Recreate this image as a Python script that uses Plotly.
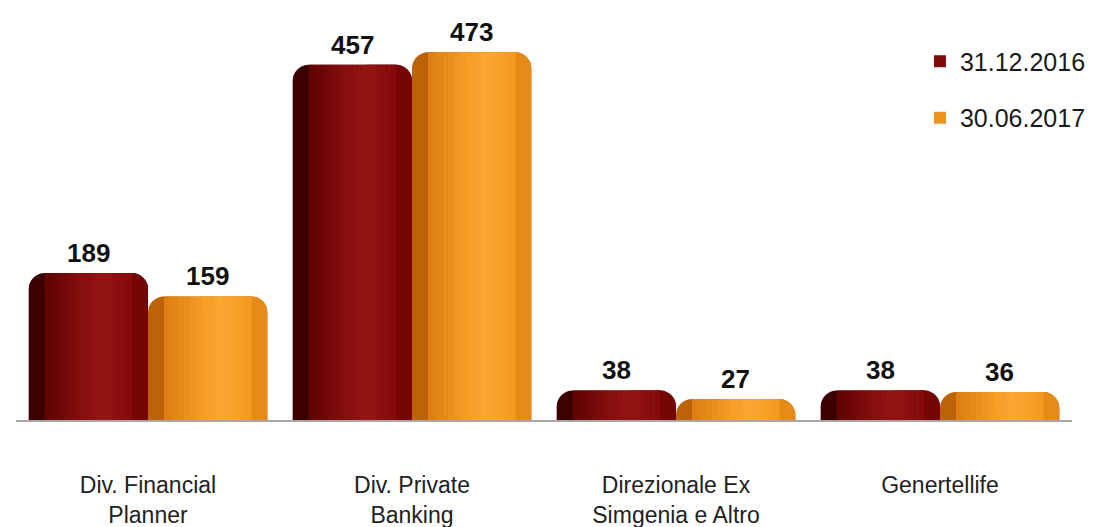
import plotly.graph_objects as go

categories = ["Div. Financial<br>Planner", "Div. Private<br>Banking",
              "Direzionale Ex<br>Simgenia e Altro", "Genertellife"]
series_names = ["31.12.2016", "30.06.2017"]
values_2016 = [189, 457, 38, 38]
values_2017 = [159, 473, 27, 36]

FONT = "Arial, Liberation Sans, Arimo, sans-serif"

# style: cylinder-like horizontal shading stops (position 0..1 across the bar, colour)
shade = [
    [(0.0, (0x3c, 0x00, 0x00)), (0.15, (0x62, 0x04, 0x04)), (0.45, (0x88, 0x0f, 0x0f)),
     (0.62, (0x95, 0x15, 0x15)), (0.85, (0x86, 0x0c, 0x0c)), (1.0, (0x76, 0x05, 0x05))],
    [(0.0, (0xbc, 0x62, 0x08)), (0.15, (0xdc, 0x7e, 0x12)), (0.45, (0xf5, 0x9c, 0x26)),
     (0.62, (0xfb, 0xa8, 0x32)), (0.85, (0xf4, 0x9a, 0x22)), (1.0, (0xe6, 0x8a, 0x18))],
]
legend_colors = ["#7e0a0a", "#ee921e"]


def col_at(stops, t):
    for (p0, c0), (p1, c1) in zip(stops[:-1], stops[1:]):
        if p0 <= t <= p1:
            f = (t - p0) / (p1 - p0) if p1 > p0 else 0
            c = [round(c0[k] + (c1[k] - c0[k]) * f) for k in range(3)]
            return "rgb(%d,%d,%d)" % tuple(c)
    c = stops[-1][1]
    return "rgb(%d,%d,%d)" % c


bw = 0.452          # width of one bar in category units
radius_px = 16
px_per_cat = 264.0
a = radius_px / (bw * px_per_cat)
N = 18
d = (1 - 2 * a) / N

fig = go.Figure()
all_vals = [values_2016, values_2017]
for s, vals in enumerate(all_vals):
    base_off = -bw if s == 0 else 0.0
    n = len(categories)
    # full rounded bar (left-edge colour)
    fig.add_trace(go.Bar(x=categories, y=vals, width=[bw] * n, offset=[base_off] * n,
                         marker=dict(color=col_at(shade[s], 0.0), cornerradius=radius_px,
                                     line=dict(width=0)),
                         showlegend=False, hoverinfo="skip"))
    # right half rounded bar (right-edge colour)
    fig.add_trace(go.Bar(x=categories, y=vals, width=[bw * 0.5] * n,
                         offset=[base_off + bw * 0.5] * n,
                         marker=dict(color=col_at(shade[s], 1.0), cornerradius=radius_px,
                                     line=dict(width=0)),
                         showlegend=False, hoverinfo="skip"))
    # shading strips
    for i in range(N):
        t = a + (i + 0.5) * d
        fig.add_trace(go.Bar(x=categories, y=vals, width=[bw * d * 1.06] * n,
                             offset=[base_off + bw * (a + i * d)] * n,
                             marker=dict(color=col_at(shade[s], t), line=dict(width=0)),
                             showlegend=False, hoverinfo="skip"))
    # legend entry
    fig.add_trace(go.Bar(x=categories, y=[None] * n, name=series_names[s],
                         marker=dict(color=legend_colors[s], line=dict(width=0)),
                         legendgroup=series_names[s], showlegend=True, hoverinfo="skip"))
    # value labels
    for j, v in enumerate(vals):
        fig.add_annotation(x=j + base_off + bw / 2, y=v, xref="x", yref="y",
                           text="<b>%d</b>" % v, showarrow=False, yanchor="bottom",
                           yshift=3, font=dict(family=FONT, size=26, color="#111111"))

# page body has an 8px margin: figure is sized/offset to compensate
fig.update_layout(
    width=1091, height=519,
    barmode="overlay",
    margin=dict(l=8, r=27, t=0, b=107, autoexpand=False),
    plot_bgcolor="white", paper_bgcolor="white",
    font=dict(family=FONT, color="#222222"),
    legend=dict(x=0.856, y=0.926, xanchor="left", yanchor="top",
                font=dict(family=FONT, size=25, color="#1a1a1a"),
                tracegroupgap=21, bgcolor="rgba(0,0,0,0)", itemwidth=30),
    xaxis=dict(type="category", categoryorder="array", categoryarray=categories,
               showline=True, linecolor="#a6a6a6", linewidth=2, ticks="",
               showgrid=False, tickfont=dict(family=FONT, size=23, color="#222222"),
               ticklabelstandoff=43, fixedrange=True, automargin=False),
    yaxis=dict(range=[0, 530], visible=False, showgrid=False, fixedrange=True,
               automargin=False),
)

fig.write_html("out.html")
